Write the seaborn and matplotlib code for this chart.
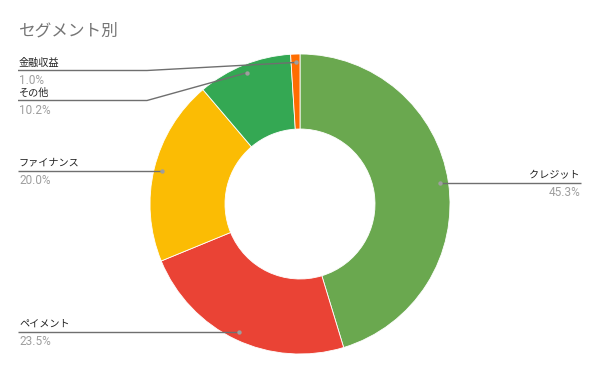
import numpy as np
import matplotlib
matplotlib.use("Agg")
import matplotlib.pyplot as plt
import seaborn as sns

categories = ["クレジット", "ペイメント", "ファイナンス", "その他", "金融収益"]
values = [45.3, 23.5, 20.0, 10.2, 1.0]
pct_labels = ["45.3%", "23.5%", "20.0%", "10.2%", "1.0%"]
colors = ["#6aa84f", "#ea4335", "#fbbc04", "#34a853", "#ff6d01"]
title = "セグメント別"

sns.set_theme(style="white")
plt.rcParams['font.family'] = ['Noto Sans CJK JP', 'DejaVu Sans']

W, H = 600, 371
fig = plt.figure(figsize=(W / 100, H / 100), dpi=100)
ax = fig.add_axes([0, 0, 1, 1])

cx, cy, R = 300, H - 204, 150
pal = sns.color_palette(colors)
ax.pie(values, colors=pal, startangle=90, counterclock=False,
       center=(cx, cy), radius=R, frame=True,
       wedgeprops=dict(width=R * 0.5, edgecolor="white", linewidth=0.6))
ax.set_xlim(0, W)
ax.set_ylim(0, H)
ax.set_aspect("equal")
ax.axis("off")

# label layout: (side, line y in px from top, elbow x)
layout = {
    "クレジット": ("right", 183, None),
    "ペイメント": ("left", 331, None),
    "ファイナンス": ("left", 170.5, None),
    "その他": ("left", 100.5, 147),
    "金融収益": ("left", 70.5, 147),
}

total = sum(values)
cum = 0.0
line_col = "#6f6f6f"
pct_font = ["Roboto", "DejaVu Sans"]
for cat, v, p in zip(categories, values, pct_labels):
    mid = (cum + v / 2) / total * 2 * np.pi
    cum += v
    r = R * 0.944
    dx, dy = cx + r * np.sin(mid), cy + r * np.cos(mid)
    side, ly, elbow = layout[cat]
    ly = H - ly
    if side == "right":
        ax.plot([dx, 581], [dy, dy], color=line_col, lw=1, solid_capstyle="butt")
        ax.text(580, dy + 3, cat, ha="right", va="bottom", fontsize=7.3, color="#222222")
        ax.text(580, dy - 3, p, ha="right", va="top", fontsize=8.5,
                color="#9e9e9e", family=pct_font)
    else:
        if elbow is None:
            xs, ys, ty = [18, dx], [dy, dy], dy
        else:
            xs, ys, ty = [18, elbow, dx], [ly, ly, dy], ly
        ax.plot(xs, ys, color=line_col, lw=1, solid_capstyle="butt")
        ax.text(19, ty + 3, cat, ha="left", va="bottom", fontsize=7.3, color="#222222")
        ax.text(19, ty - 3, p, ha="left", va="top", fontsize=8.5,
                color="#9e9e9e", family=pct_font)
    ax.scatter([dx], [dy], s=10, color="#9e9e9e", zorder=5, linewidths=0)

ax.text(19, H - 31, title, ha="left", va="center", fontsize=12, color="#757575")

fig.savefig("out.png", dpi=100)
